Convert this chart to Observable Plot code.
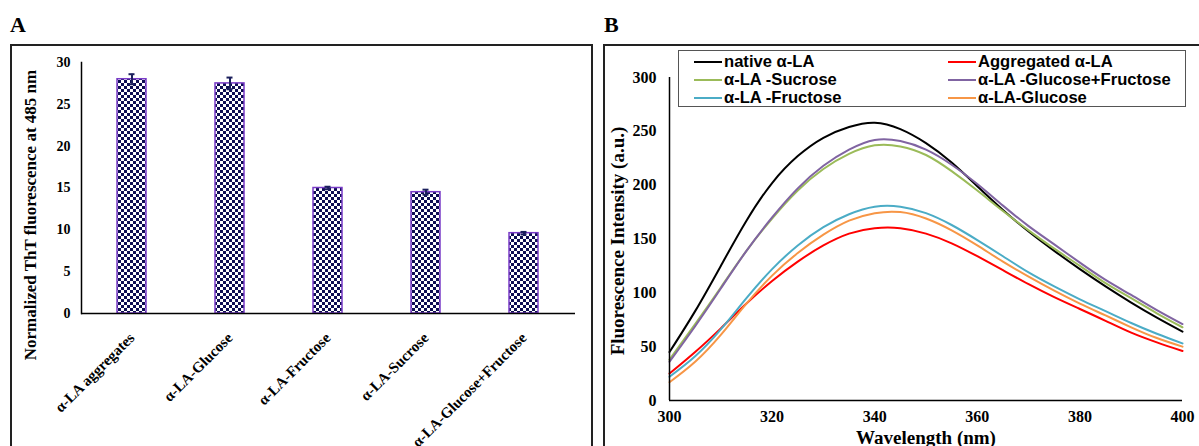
<!DOCTYPE html>
<html>
<head>
<meta charset="utf-8">
<script src="https://cdn.jsdelivr.net/npm/d3@7"></script>
<script src="https://cdn.jsdelivr.net/npm/@observablehq/plot@0.6"></script>
<style>
  html, body { margin: 0; padding: 0; background: #fff; }
  body { position: relative; width: 1199px; height: 446px; overflow: hidden; font-family: "Liberation Serif", "Times New Roman", serif; }
  .panel-letter { position: absolute; font-weight: bold; font-size: 22px; line-height: 1; color: #000; }
  .frame { position: absolute; border: 2px solid #222; box-sizing: border-box; }
  .holder { position: absolute; }
  #legendB { position: absolute; left: 678px; top: 50px; width: 508px; height: 57px; border: 1.5px solid #555; box-sizing: border-box;
             font-family: "Liberation Sans", Arial, sans-serif; font-weight: bold; font-size: 16.6px; color: #000; }
  .lg-item { position: absolute; height: 18px; line-height: 18px; white-space: nowrap; }
  .lg-swatch { position: absolute; top: 8px; width: 28px; height: 0; border-top: 2.5px solid; }
  .lg-text { position: absolute; left: 30px; top: 0; }
</style>
</head>
<body>
<div class="panel-letter" style="left:10px;top:14px;">A</div>
<div class="panel-letter" style="left:604px;top:14px;">B</div>
<div class="frame" style="left:10px;top:44px;width:583px;height:420px;"></div>
<div class="frame" style="left:603px;top:44px;width:620px;height:420px;"></div>
<div class="holder" id="chartA" style="left:13px;top:47px;"></div>
<div class="holder" id="chartB" style="left:605px;top:47px;"></div>
<div id="legendB"></div>
<script>
// ---------- Panel A data ----------
const categories = ["α-LA aggregates", "α-LA-Glucose", "α-LA-Fructose", "α-LA-Sucrose", "α-LA-Glucose+Fructose"];
const thtValues = [28.0, 27.5, 15.0, 14.5, 9.6];
const thtErrors = [0.6, 0.7, 0.15, 0.3, 0.15];
const yTicksA = [0, 5, 10, 15, 20, 25, 30];
const yTitleA = "Normalized ThT fluorescence at 485 nm";

// ---------- Panel B data ----------
const wavelengths = [300, 305, 310, 315, 320, 325, 330, 335, 340, 345, 350, 355, 360, 365, 370, 375, 380, 385, 390, 395, 400];
const nativeLA      = [45, 83, 125, 167, 202, 227, 244, 254, 258, 252, 239, 221, 199, 177, 157, 139, 122, 106, 91, 77, 64];
const aggregatedLA  = [25, 45, 67, 90, 111, 129, 144, 155, 160, 160, 155, 146, 134, 121, 108, 96, 85, 74, 63, 54, 46];
const sucroseLA     = [38, 71, 105, 139, 169, 195, 215, 229, 237, 236, 228, 213, 195, 176, 158, 141, 125, 109, 95, 81, 68];
const glucFrucLA    = [36, 69, 104, 139, 170, 197, 218, 233, 242, 241, 233, 219, 201, 181, 162, 145, 128, 112, 98, 84, 71];
const fructoseLA    = [22, 41, 66, 95, 122, 144, 161, 173, 180, 180, 174, 163, 149, 134, 119, 106, 94, 83, 72, 62, 53];
const glucoseLA     = [17, 36, 61, 90, 116, 137, 154, 167, 174, 175, 169, 158, 144, 129, 115, 102, 90, 79, 68, 58, 50];
const seriesNames  = ["native α-LA", "Aggregated α-LA", "α-LA -Sucrose", "α-LA -Glucose+Fructose", "α-LA -Fructose", "α-LA-Glucose"];
const seriesValues = [nativeLA, aggregatedLA, sucroseLA, glucFrucLA, fructoseLA, glucoseLA];
const seriesColors = ["#000000", "#ff0000", "#9bbb59", "#8064a2", "#4bacc6", "#f79646"];
const xTicksB = [300, 320, 340, 360, 380, 400];
const yTicksB = [0, 50, 100, 150, 200, 250, 300];
const xTitleB = "Wavelength (nm)";
const yTitleB = "Fluorescence Intensity (a.u.)";

const serif = '"Liberation Serif", "Times New Roman", serif';

// ---------- Panel A ----------
const barData = categories.map((c, i) => ({category: c, value: thtValues[i], error: thtErrors[i]}));
const errColor = "#1b1f5c";
const plotA = Plot.plot({
  width: 579, height: 400,
  marginLeft: 68, marginRight: 17, marginTop: 15, marginBottom: 134,
  style: {fontFamily: serif, color: "#000", background: "none", overflow: "visible"},
  x: {domain: categories, paddingInner: 0.7, paddingOuter: 0.35},
  y: {domain: [0, 30]},
  marks: [
    Plot.barY(barData, {x: "category", y: "value", fill: "url(#checker)", stroke: "#7a3cc8", strokeWidth: 1.5}),
    Plot.ruleX(barData, {x: "category", y1: d => d.value - d.error, y2: d => d.value + d.error, stroke: errColor, strokeWidth: 2}),
    Plot.tickY(barData, {x: "category", y: d => d.value + d.error, stroke: errColor, strokeWidth: 2, insetLeft: 11.5, insetRight: 11.5}),
    Plot.tickY(barData, {x: "category", y: d => d.value - d.error, stroke: errColor, strokeWidth: 2, insetLeft: 11.5, insetRight: 11.5}),
    Plot.axisY({ticks: yTicksA, tickSize: 0, tickPadding: 11, fontSize: 14, fontWeight: "bold", label: null}),
    Plot.axisX({tickSize: 0, tickRotate: -45, tickPadding: 22, fontSize: 15, fontWeight: "bold", label: null}),
    Plot.frame({anchor: "left", strokeWidth: 1.5}),
    Plot.ruleY([0], {strokeWidth: 1.5}),
    Plot.text([yTitleA], {frameAnchor: "left", rotate: -90, dx: -51, dy: 27, textAnchor: "middle", fontSize: 17, fontWeight: "bold"})
  ]
});
d3.select(plotA).insert("defs", ":first-child").html(
  '<pattern id="checker" width="6" height="6" patternUnits="userSpaceOnUse">' +
  '<rect width="6" height="6" fill="#ffffff"/>' +
  '<rect width="3" height="3" fill="#0d0d52"/>' +
  '<rect x="3" y="3" width="3" height="3" fill="#0d0d52"/></pattern>'
);
document.getElementById("chartA").appendChild(plotA);

// ---------- Panel B ----------
const lineData = [];
seriesNames.forEach((name, k) => {
  wavelengths.forEach((w, i) => lineData.push({series: name, wavelength: w, intensity: seriesValues[k][i]}));
});
const plotB = Plot.plot({
  width: 594, height: 400,
  marginLeft: 64, marginRight: 17, marginTop: 30, marginBottom: 47,
  style: {fontFamily: serif, color: "#000", background: "none", overflow: "visible"},
  x: {domain: [300, 400]},
  y: {domain: [0, 300]},
  color: {domain: seriesNames, range: seriesColors},
  marks: [
    Plot.line(lineData, {x: "wavelength", y: "intensity", z: "series", stroke: "series", strokeWidth: 2, curve: "natural"}),
    Plot.axisX({ticks: xTicksB, tickSize: 0, tickPadding: 10, fontSize: 16, fontWeight: "bold", label: null}),
    Plot.axisY({ticks: yTicksB, tickSize: 0, tickPadding: 13, fontSize: 16, fontWeight: "bold", label: null}),
    Plot.ruleX([300], {strokeWidth: 1.5}),
    Plot.ruleY([0], {strokeWidth: 1.5}),
    Plot.text([xTitleB], {frameAnchor: "bottom", dy: 37, lineAnchor: "middle", fontSize: 19, fontWeight: "bold"}),
    Plot.text([yTitleB], {frameAnchor: "left", rotate: -90, dx: -52, dy: 2, textAnchor: "middle", fontSize: 19, fontWeight: "bold"})
  ]
});
document.getElementById("chartB").appendChild(plotB);

// ---------- Legend for B ----------
const legend = document.getElementById("legendB");
seriesNames.forEach((name, k) => {
  const col = k % 2, row = Math.floor(k / 2);
  const item = document.createElement("div");
  item.className = "lg-item";
  item.style.left = (col === 0 ? 15 : 269) + "px";
  item.style.top = (2 + row * 18) + "px";
  const sw = document.createElement("span");
  sw.className = "lg-swatch";
  sw.style.borderTopColor = seriesColors[k];
  const tx = document.createElement("span");
  tx.className = "lg-text";
  tx.textContent = name;
  item.appendChild(sw); item.appendChild(tx);
  legend.appendChild(item);
});
</script>
</body>
</html>
